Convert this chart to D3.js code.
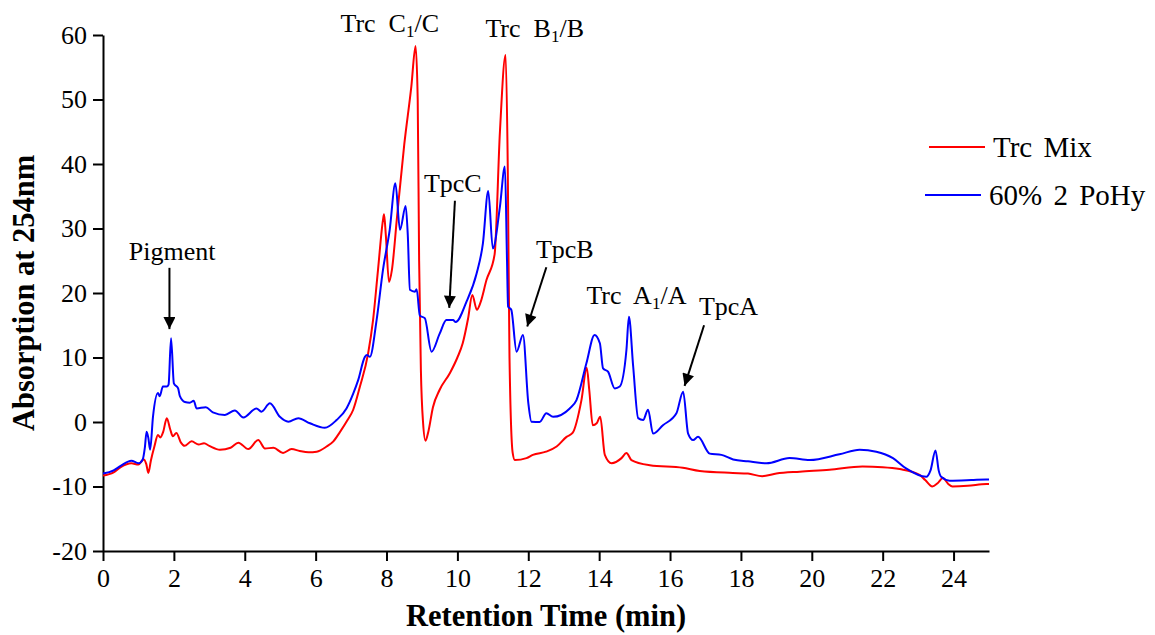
<!DOCTYPE html>
<html>
<head>
<meta charset="utf-8">
<script src="https://cdn.jsdelivr.net/npm/d3@7"></script>
<style>
  body { margin: 0; background: #fff; }
  svg text { font-family: "Liberation Serif", "Times New Roman", serif; fill: #000; }
</style>
</head>
<body>
<svg id="chart" width="1155" height="635"></svg>
<script>
// retention time (min) / absorption at 254nm
const trcMixTime = [0, 0.3, 0.5, 0.8, 1.0, 1.15, 1.22, 1.28, 1.35, 1.45, 1.55, 1.62, 1.7, 1.8, 1.9, 1.97, 2.07, 2.2, 2.3, 2.5, 2.7, 2.85, 3.0, 3.3, 3.6, 3.82, 4.1, 4.38, 4.57, 4.81, 5.08, 5.32, 5.55, 5.8, 6.03, 6.31, 6.5, 6.68, 6.9, 7.06, 7.25, 7.48, 7.62, 7.76, 7.9, 7.93, 7.98, 8.07, 8.15, 8.3, 8.5, 8.7, 8.82, 8.88, 8.92, 8.97, 9.03, 9.1, 9.18, 9.31, 9.5, 9.79, 10.0, 10.15, 10.3, 10.42, 10.55, 10.65, 10.82, 11.05, 11.2, 11.36, 11.42, 11.47, 11.56, 11.62, 11.95, 12.13, 12.5, 12.8, 13.08, 13.25, 13.5, 13.65, 13.72, 13.82, 13.93, 14.03, 14.16, 14.35, 14.63, 14.77, 14.91, 15.43, 16.36, 16.84, 17.77, 18.2, 18.6, 19.0, 19.66, 20.5, 21.43, 22.0, 22.48, 23.04, 23.2, 23.4, 23.55, 23.7, 23.85, 23.97, 24.4, 24.93, 25];
const trcMixAbs = [-8.3, -7.8, -7.0, -6.4, -6.6, -5.8, -6.5, -7.9, -6.0, -3.8, -2.0, -2.4, -1.5, 0.6, -1.2, -2.2, -1.7, -3.2, -3.7, -3.0, -3.5, -3.3, -3.7, -4.3, -4.0, -3.2, -4.2, -2.8, -4.1, -4.0, -4.8, -4.2, -4.5, -4.7, -4.6, -3.8, -3.0, -1.6, 0.3, 1.9, 5.5, 10.6, 15.8, 23.6, 31.3, 32.2, 29, 21.7, 23.5, 32, 43, 52, 58.3, 50, 25, 8, 0, -2.9, -1.5, 2.3, 5, 7.6, 10, 12.2, 16, 19.7, 17.4, 18.5, 22, 26, 45, 56.9, 40, 10, -4.8, -5.9, -5.6, -5.1, -4.6, -3.8, -2.3, -1.7, 3.4, 8.4, 5, -0.5, -0.2, 0.8, -5.1, -6.4, -5.6, -4.8, -5.9, -6.7, -7.1, -7.6, -7.9, -8.0, -8.4, -8.0, -7.7, -7.4, -6.9, -7.0, -7.3, -8.2, -9.0, -10.0, -9.5, -8.7, -9.6, -10.0, -9.9, -9.6, -9.6];

const poHyTime = [0, 0.3, 0.5, 0.8, 1.0, 1.12, 1.18, 1.23, 1.28, 1.33, 1.41, 1.55, 1.6, 1.69, 1.8, 1.85, 1.92, 2.0, 2.12, 2.17, 2.31, 2.45, 2.56, 2.64, 2.9, 3.1, 3.44, 3.72, 3.96, 4.33, 4.47, 4.71, 4.99, 5.23, 5.51, 5.84, 6.26, 6.59, 6.87, 7.06, 7.2, 7.39, 7.45, 7.53, 7.72, 7.9, 8.09, 8.25, 8.38, 8.54, 8.6, 8.66, 8.8, 8.85, 8.94, 9.08, 9.27, 9.5, 9.69, 9.88, 9.95, 10.26, 10.54, 10.72, 10.87, 11.0, 11.2, 11.34, 11.4, 11.43, 11.52, 11.67, 11.85, 12.0, 12.09, 12.32, 12.51, 12.7, 13.17, 13.36, 13.64, 13.87, 14.02, 14.11, 14.25, 14.44, 14.58, 14.77, 14.84, 14.96, 15.1, 15.24, 15.38, 15.52, 15.8, 16.18, 16.37, 16.51, 16.65, 16.79, 17.12, 17.45, 17.78, 18.2, 18.72, 19.37, 19.94, 20.78, 21.35, 21.82, 22.29, 22.66, 23.23, 23.35, 23.49, 23.58, 23.65, 23.89, 24.5, 24.92, 25];
const poHyAbs = [-8.0, -7.5, -6.8, -6.0, -6.4, -5.8, -4, -1.5, -2.5, -4.3, 0.8, 4.5, 4.0, 5.5, 5.5, 5.8, 13.0, 6.0, 5.2, 4.0, 3.1, 3.0, 3.3, 2.1, 2.3, 1.5, 1.1, 1.8, 0.7, 2.1, 1.6, 2.9, 0.8, 0.05, 0.6, -0.2, -0.9, 0.3, 2.1, 4.4, 6.5, 10.1, 10.4, 10.1, 15.8, 23.6, 29.8, 37.0, 29.8, 33.5, 29, 20.5, 20.2, 20.6, 16.5, 16.1, 10.9, 13.7, 15.8, 15.8, 15.5, 18.7, 23.0, 27.7, 35.8, 26.9, 33.4, 39.6, 25, 17.9, 17.4, 10.9, 13.5, 3, 0.05, 0, 1.35, 0.8, 2.1, 3.4, 9.1, 13.5, 12.2, 8.3, 7.8, 5.2, 5.5, 11.2, 16.3, 8.6, 0.6, 0.3, 1.9, -1.8, -0.5, 1.35, 4.7, -1.8, -2.8, -2.3, -4.9, -5.1, -5.8, -6.1, -6.4, -5.6, -5.9, -5.0, -4.3, -4.6, -5.6, -7.2, -8.5, -7.5, -4.4, -7.5, -8.5, -9.1, -9.0, -8.9, -8.9];

const seriesNames = ["Trc Mix", "60% 2 PoHy"];
const seriesColors = ["#ff0000", "#0000ff"];

const xTicks = [0, 2, 4, 6, 8, 10, 12, 14, 16, 18, 20, 22, 24];
const yTicks = [-20, -10, 0, 10, 20, 30, 40, 50, 60];

// peak labels: text anchor point in data units
const peakLabels = [
  { main: "Trc C", sub: "1", rest: "/C", t: 6.7, v: 60.5 },
  { main: "Trc B", sub: "1", rest: "/B", t: 10.79, v: 59.7 },
  { main: "Trc A", sub: "1", rest: "/A", t: 13.64, v: 18.3 }
];
// arrow labels: text centre, arrow from (t0,v0) to (t1,v1)
const arrowLabels = [
  { text: "Pigment", t: 1.95, v: 25.1, t0: 1.875, v0: 23.9, t1: 1.875, v1: 14.4 },
  { text: "TpcC", t: 9.87, v: 35.7, t0: 9.93, v0: 34.3, t1: 9.77, v1: 17.7 },
  { text: "TpcB", t: 13.03, v: 25.4, t0: 12.51, v0: 24.0, t1: 11.97, v1: 14.8 },
  { text: "TpcA", t: 17.65, v: 16.6, t0: 16.96, v0: 15.0, t1: 16.41, v1: 5.6 }
];

const svg = d3.select("#chart");
const x = d3.scaleLinear().domain([0, 25]).range([103, 989]);
const y = d3.scaleLinear().domain([-20, 60]).range([551, 35]);

svg.append("defs").append("marker")
    .attr("id", "head")
    .attr("viewBox", "0 0 12 12")
    .attr("refX", 12).attr("refY", 6)
    .attr("markerUnits", "userSpaceOnUse")
    .attr("markerWidth", 13).attr("markerHeight", 12)
    .attr("orient", "auto")
  .append("path")
    .attr("d", "M0,0 L12,6 L0,12 Z")
    .attr("fill", "#000");

// axes (plain hyphen for negatives, like the original)
const fmt = d => String(d);
const xAxis = svg.append("g")
    .attr("transform", `translate(0,${y(-20)})`)
    .call(d3.axisBottom(x).tickValues(xTicks).tickFormat(fmt).tickSize(10).tickSizeOuter(0).tickPadding(8));
const yAxis = svg.append("g")
    .attr("transform", `translate(${x(0)},0)`)
    .call(d3.axisLeft(y).tickValues(yTicks).tickFormat(fmt).tickSize(10).tickSizeOuter(0).tickPadding(6));

[xAxis, yAxis].forEach(g => {
  g.selectAll("path, line").attr("stroke", "#000").attr("stroke-width", 2);
  g.selectAll("text").attr("font-size", 26).attr("font-family", "Liberation Serif, serif");
});

// traces
const line = d3.line()
    .x(d => x(d[0]))
    .y(d => y(d[1]))
    .curve(d3.curveMonotoneX);

const traces = [
  d3.zip(trcMixTime, trcMixAbs),
  d3.zip(poHyTime, poHyAbs)
];

svg.append("g").selectAll("path")
  .data(traces)
  .enter().append("path")
    .attr("fill", "none")
    .attr("stroke", (d, i) => seriesColors[i])
    .attr("stroke-width", 2)
    .attr("stroke-linejoin", "round")
    .attr("d", line);

// axis titles
svg.append("text")
    .attr("x", (x(0) + x(25)) / 2)
    .attr("y", 626)
    .attr("text-anchor", "middle")
    .attr("font-size", 30.5)
    .attr("font-weight", "bold")
    .text("Retention Time (min)");

svg.append("text")
    .attr("transform", `translate(34,${(y(60) + y(-20)) / 2}) rotate(-90)`)
    .attr("text-anchor", "middle")
    .attr("font-size", 30.5)
    .attr("font-weight", "bold")
    .text("Absorption at 254nm");

// peak labels with subscript
peakLabels.forEach(p => {
  const t = svg.append("text")
      .attr("x", x(p.t))
      .attr("y", y(p.v))
      .attr("font-size", 26);
  t.append("tspan").text(p.main.replace(" ", "\u00a0 "));
  t.append("tspan").attr("font-size", 17).attr("dy", 5).text(p.sub);
  t.append("tspan").attr("dy", -5).text(p.rest);
});

// arrow labels
arrowLabels.forEach(a => {
  svg.append("text")
      .attr("x", x(a.t))
      .attr("y", y(a.v))
      .attr("text-anchor", "middle")
      .attr("font-size", 26)
      .text(a.text);
  svg.append("line")
      .attr("x1", x(a.t0)).attr("y1", y(a.v0))
      .attr("x2", x(a.t1)).attr("y2", y(a.v1))
      .attr("stroke", "#000")
      .attr("stroke-width", 2)
      .attr("marker-end", "url(#head)");
});

// legend
const legend = svg.append("g").attr("transform", "translate(929,147)");
seriesNames.forEach((name, i) => {
  const row = legend.append("g").attr("transform", `translate(${-4 * i},${48 * i})`);
  row.append("line")
      .attr("x1", 0).attr("x2", 56)
      .attr("stroke", seriesColors[i])
      .attr("stroke-width", 2);
  row.append("text")
      .attr("x", 64)
      .attr("y", 10)
      .attr("font-size", 29)
      .attr("word-spacing", 4)
      .text(name);
});
</script>
</body>
</html>
